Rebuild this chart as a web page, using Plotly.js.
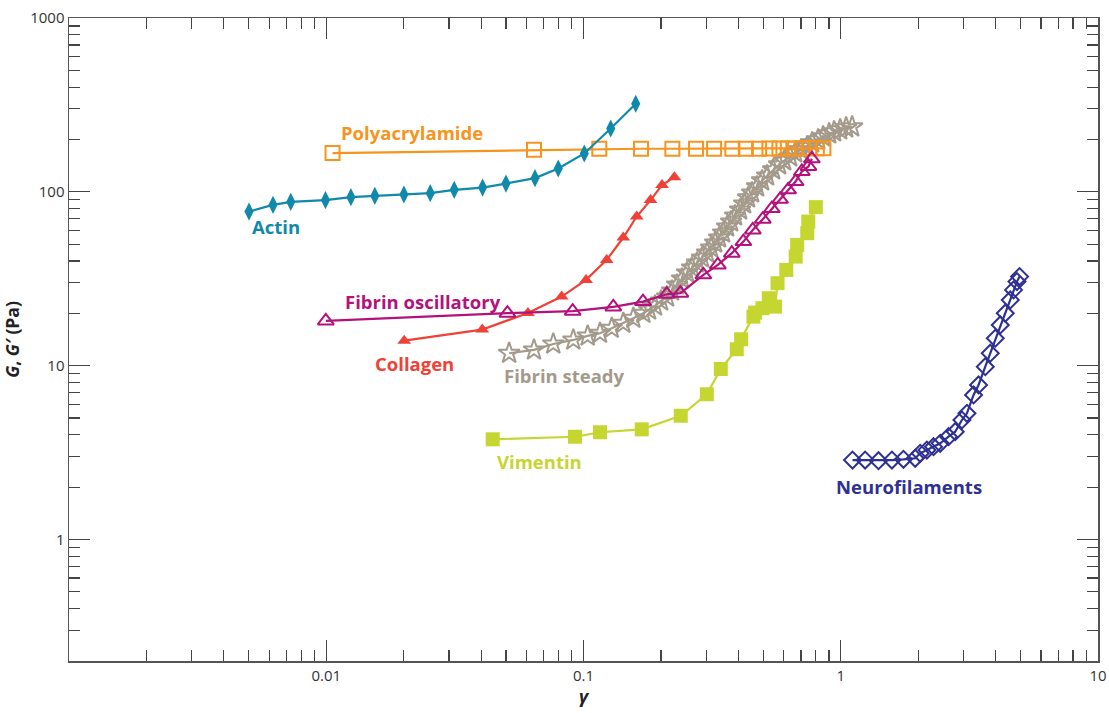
<!DOCTYPE html>
<html>
<head>
<meta charset="utf-8">
<script src="https://cdn.plot.ly/plotly-3.0.1.min.js"></script>
<style>html,body{margin:0;padding:0;background:#fff;}#chart{width:1109px;height:713px;}</style>
</head>
<body>
<div id="chart"></div>
<script>
// ---- Data (strain gamma, modulus G / G' in Pa) ----
const actinX = [0.00501,0.00621,0.00728,0.00993,0.01247,0.01545,0.02004,0.02537,0.03144,0.04053,0.04995,0.06477,0.0798,0.1007,0.1276,0.1596];
const actinY = [77.0,84.2,87.6,89.6,93.2,94.8,96.5,98.3,102.7,105.8,111.6,119.9,136.2,166.2,231.4,321.1];

const polyX = [0.01058,0.06421,0.1152,0.1673,0.2215,0.2738,0.3218,0.379,0.4275,0.4815,0.528,0.5775,0.6228,0.6646,0.7096,0.7556,0.8072,0.8563];
const polyY = [167,174.5,177,177,177,177,177,177,177,177,177.5,177.5,177.5,177.5,178,178,178,178];

const collX = [0.02009,0.0404,0.06083,0.08227,0.1023,0.1231,0.1428,0.161,0.1822,0.202,0.2256];
const collY = [13.93,16.12,20.11,24.96,31.14,40.6,54.6,72.1,89.6,109.4,121.5];

const foscX = [0.00996,0.05062,0.09078,0.1306,0.1703,0.2107,0.238,0.2924,0.3327,0.3772,0.4183,0.4551,0.4977,0.5395,0.5811,0.6244,0.6677,0.7059,0.7489,0.772];
const foscY = [18.09,20.03,20.57,21.78,23.36,25.76,26.11,33.29,37.99,44.37,51.74,60.41,69.62,80.06,90.54,102.7,114.6,130.9,139.9,154.9];

const fstX = [0.0514,0.0642,0.0763,0.0913,0.1038,0.1159,0.1287,0.1428,0.1562,0.1709,0.1798,0.1897,0.2002,0.2113,0.2209,0.2310,0.2415,0.2526,0.2642,0.2763,0.2890,0.3022,0.3132,0.3247,0.3365,0.3488,0.3614,0.3747,0.3884,0.4061,0.4210,0.4363,0.4522,0.4729,0.4946,0.5172,0.5459,0.5760,0.6025,0.6356,0.6648,0.7015,0.7403,0.7740,0.8168,0.8541,0.9013,0.9425,0.9947,1.0495,1.1074];
const fstY = [11.79,12.32,13.33,14.06,14.83,15.37,16.42,17.54,18.74,20.03,20.93,22.07,23.58,24.86,26.92,29.15,31.56,34.18,36.52,39.01,41.69,44.54,47.60,50.86,54.35,58.05,62.88,67.19,72.74,78.78,85.30,92.38,98.67,106.9,115.7,123.6,133.9,143.0,150.8,159.1,167.7,174.5,181.6,191.5,199.3,207.3,215.8,221.6,227.5,233.6,236.7];

const vimX = [0.04436,0.09267,0.1159,0.1684,0.2388,0.3015,0.3418,0.3943,0.4099,0.4576,0.4646,0.4960,0.5250,0.5550,0.5680,0.6140,0.6680,0.6770,0.7410,0.7480,0.8000];
const vimY = [3.77,3.90,4.14,4.30,5.15,6.85,9.57,12.43,14.19,19.15,20.19,21.40,24.43,21.86,29.81,35.55,42.41,49.53,57.83,67.45,81.64];

const neuroX = [1.111,1.244,1.402,1.581,1.753,1.947,2.036,2.162,2.294,2.436,2.624,2.786,2.958,3.094,3.283,3.433,3.646,3.812,3.988,4.169,4.36,4.56,4.697,4.842,4.956];
const neuroY = [2.865,2.865,2.839,2.865,2.892,2.931,3.131,3.271,3.417,3.574,3.901,4.169,4.868,5.321,6.784,7.744,9.867,11.79,14.38,17.15,20.03,23.89,27.28,30.45,32.54];

const seriesNames = ['Polyacrylamide','Actin','Fibrin oscillatory','Collagen','Fibrin steady','Vimentin','Neurofilaments'];
const xTickVals = [0.01,0.1,1,10];
const xTickText = ['0.01','0.1','1','10'];
const yTickVals = [1,10,100,1000];
const yTickText = ['1','10','100','1000'];

// ---- Styles ----
const C = {
  actin:'#1089aa', poly:'#f7941d', coll:'#ef4136', fosc:'#b3127c',
  fst:'#a39a8b', vim:'#c5d631', neuro:'#2e3192'
};

function tr(x,y,color,symbol,size,lw,name){
  return {x:x,y:y,type:'scatter',mode:'lines+markers',name:name,
    line:{color:color,width:2.2},
    marker:{symbol:symbol,size:size,color:color,line:{color:color,width:lw}},
    hoverinfo:'x+y+name'};
}

const data = [
  tr(fstX,fstY,C.fst,'star-open',16,2,seriesNames[4]),
  tr(polyX,polyY,C.poly,'square-open',14,2,seriesNames[0]),
  tr(actinX,actinY,C.actin,'diamond-tall',13,0,seriesNames[1]),
  tr(collX,collY,C.coll,'triangle-up',12,0,seriesNames[3]),
  tr(foscX,foscY,C.fosc,'triangle-up-open',14,2,seriesNames[2]),
  tr(vimX,vimY,C.vim,'square',14,0,seriesNames[5]),
  tr(neuroX,neuroY,C.neuro,'diamond-open',13,2,seriesNames[6])
];

function minors(lo,hi){const v=[];for(let d=lo;d<hi;d++){for(let m=2;m<=9;m++){v.push(m*Math.pow(10,d));}}return v;}

const axisCommon = {
  type:'log', showgrid:false, zeroline:false, showline:true,
  linecolor:'#555', linewidth:1.5, mirror:'ticks',
  ticks:'inside', ticklen:21, tickwidth:1.2, tickcolor:'#444',
  tickfont:{family:'Open Sans, Liberation Sans, sans-serif', size:15, color:'#333'}
};

const layout = {
  width:1109, height:713,
  margin:{l:69, r:11, t:18, b:52},
  paper_bgcolor:'#fff', plot_bgcolor:'#fff',
  showlegend:false,
  xaxis: Object.assign({}, axisCommon, {
    range:[-3,1], tickmode:'array', tickvals:xTickVals, ticktext:xTickText,
    minor:{tickmode:'array', tickvals:minors(-3,1), ticks:'inside', ticklen:11, tickwidth:1.2, tickcolor:'#444', showgrid:false},
    title:{text:'<b><i>γ</i></b>', font:{family:'Open Sans, sans-serif', size:18, color:'#222'}, standoff:6}
  }),
  yaxis: Object.assign({}, axisCommon, {
    range:[Math.log10(0.2),3], tickmode:'array', tickvals:yTickVals, ticktext:yTickText,
    minor:{tickmode:'array', tickvals:minors(-1,3).filter(v=>v>=0.2), ticks:'inside', ticklen:11, tickwidth:1.2, tickcolor:'#444', showgrid:false},
    title:{text:'<b><i>G</i>, <i>G′</i> (Pa)</b>', font:{family:'Open Sans, sans-serif', size:17.5, color:'#222'}, standoff:9}
  }),
  annotations: [
    {text:'<b>Polyacrylamide</b>', x:0.3332, y:0.8215, color:C.poly},
    {text:'<b>Actin</b>', x:0.201, y:0.6751, color:C.actin},
    {text:'<b>Fibrin oscillatory</b>', x:0.3439, y:0.5584, color:C.fosc},
    {text:'<b>Collagen</b>', x:0.3361, y:0.4619, color:C.coll},
    {text:'<b>Fibrin steady</b>', x:0.482, y:0.4447, color:C.fst},
    {text:'<b>Vimentin</b>', x:0.4577, y:0.3109, color:C.vim},
    {text:'<b>Neurofilaments</b>', x:0.8165, y:0.272, color:C.neuro}
  ].map(a=>({text:a.text, x:a.x, y:a.y, xref:'paper', yref:'paper', showarrow:false,
      xanchor:'center', yanchor:'middle',
      font:{family:'Open Sans, sans-serif', size:18.5, color:a.color}}))
};

Plotly.newPlot('chart', data, layout, {displayModeBar:false, staticPlot:true});
</script>
</body>
</html>
